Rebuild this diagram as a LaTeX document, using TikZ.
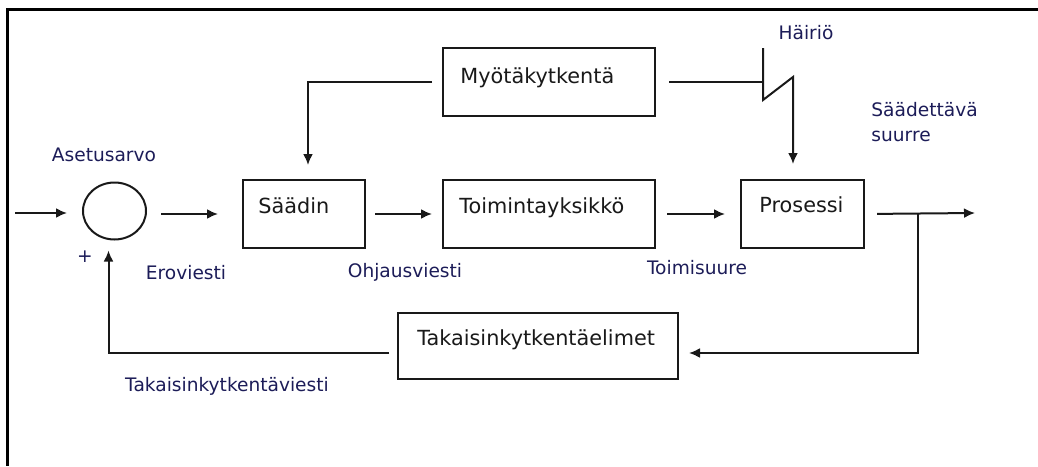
\documentclass[tikz,border=0pt]{standalone}
\usepackage{fontspec}
\setmainfont{DejaVu Sans}
\usepackage{tikz}
\usetikzlibrary{shapes.geometric}
\usetikzlibrary{arrows.meta}
\definecolor{lblblue}{RGB}{28,28,88}
\newcommand{\blkfont}{\fontsize{10.4}{12}\selectfont}
\newcommand{\lblfont}{\fontsize{9.3}{12.5}\selectfont}
\tikzset{
  blk/.style={rectangle, draw=black!90, line width=1pt, fill=white, anchor=north west},
  blktext/.style={anchor=base west, inner sep=0pt, font=\blkfont, text=black!90},
  lbl/.style={inner sep=0pt, font=\lblfont, text=lblblue},
  conn/.style={line width=1pt, draw=black!90}
}

\begin{document}
\begin{tikzpicture}[x=0.5pt, y=-0.5pt]
\useasboundingbox (0,0) rectangle (1038,466);
\draw [line width=1.5pt] (1038,9) -- (7,9) -- (7,466);

\node at (114.5,211) [ellipse, draw=black!90, line width=1pt, minimum width=31.5pt, minimum height=28.5pt] (sum) {};

\node at (242,179) [blk, minimum width=61pt, minimum height=34pt] (saadin) {};
\node [blktext] at ([shift={(8pt,-17pt)}]saadin.north west) {Säädin};

\node at (442,179) [blk, minimum width=106pt, minimum height=34pt] (toim) {};
\node [blktext] at ([shift={(8.5pt,-17pt)}]toim.north west) {Toimintayksikkö};

\node at (442,47) [blk, minimum width=106pt, minimum height=34pt] (myota) {};
\node [blktext] at ([shift={(9pt,-18pt)}]myota.north west) {Myötäkytkentä};

\node at (740,179) [blk, minimum width=61.5pt, minimum height=34pt] (prosessi) {};
\node [blktext] at ([shift={(9.5pt,-16.5pt)}]prosessi.north west) {Prosessi};

\node at (397,312) [blk, minimum width=140pt, minimum height=33pt] (takaisin) {};
\node [blktext] at ([shift={(10pt,-16.5pt)}]takaisin.north west) {Takaisinkytkentäelimet};

\node at (104,155) [lbl] (aset) {Asetusarvo};
\node at (85,257) [lbl] (plus) {+};
\node at (186,273) [lbl] (ero) {Eroviesti};
\node at (405,272) [lbl] (ohjaus) {Ohjausviesti};
\node at (697,268) [lbl] (toimis) {Toimisuure};
\node at (227,386) [lbl] (takviesti) {Takaisinkytkentäviesti};
\node at (806,33) [lbl] (hairio) {Häiriö};
\node at (871,122) [lbl, anchor=west, align=left] (suure) {Säädettävä\\suurre};

\coordinate (in) at (15,213);
\coordinate (out) at (975,213);
\coordinate (branch) at (918,213);
\coordinate (h1) at (763,48);
\coordinate (h2) at (763,100);
\coordinate (h3) at (793,77);

\begin{scope}[>={Latex[length=5.5pt,width=5pt]}]
	\draw [conn, ->, shorten >=7.5pt] (in) -- (in -| sum.west);
	\draw [conn, ->, shorten <=7pt, shorten >=12pt] (saadin.west -| sum.east) -- (saadin.west);
	\draw [conn, ->, shorten <=4.5pt, shorten >=5pt] (saadin.east) -- (toim.west);
	\draw [conn, ->, shorten <=5.5pt, shorten >=7.5pt] (toim.east) -- (prosessi.west);
	\draw [conn, ->, shorten <=6pt] (prosessi.east) -- (out);
	\draw [conn, ->, shorten >=5pt] (branch) |- ([yshift=-3.5pt]takaisin.east);
	\draw [conn, ->, shorten <=4pt, shorten >=5pt] ([yshift=-3.5pt]takaisin.west) -| ([xshift=-3pt]sum.south);
	\draw [conn, ->, shorten <=5pt, shorten >=7pt] (myota.west) -| ([xshift=2pt]saadin.north);
	\draw [conn, shorten <=6.5pt] (myota.east) -- (h1 |- myota.east);
	\draw [conn, ->, shorten >=7.5pt] (h1) -- (h2) -- (h3) -- (h3 |- prosessi.north);
\end{scope}

\end{tikzpicture}
\end{document}
